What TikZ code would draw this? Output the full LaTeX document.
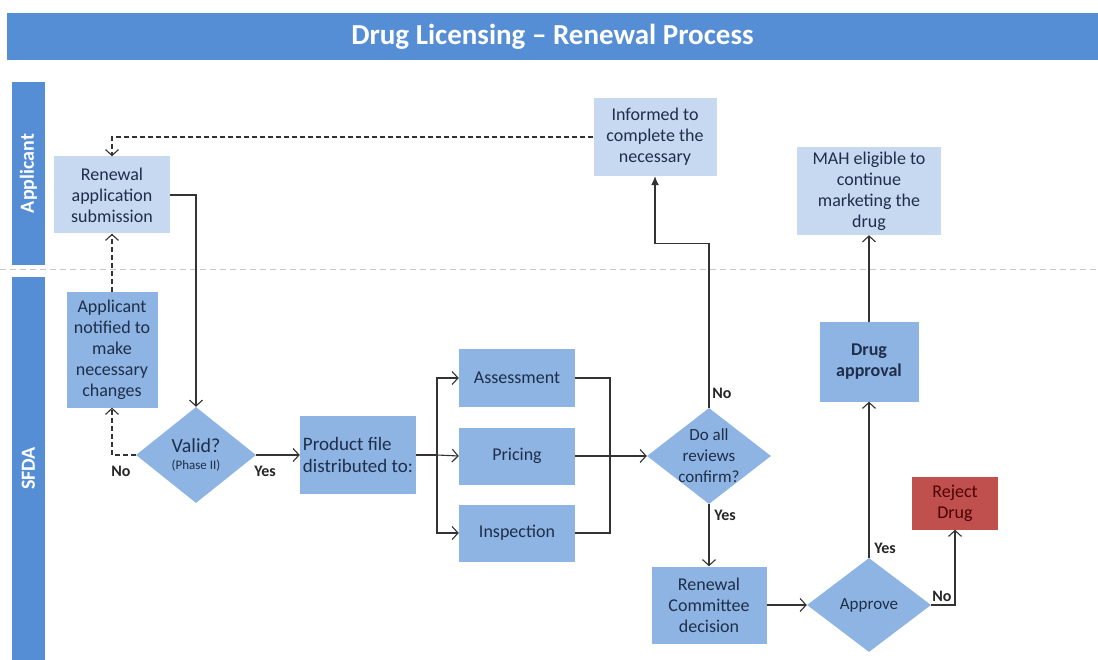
\documentclass[tikz,border=0pt]{standalone}
\usepackage{fontspec}
\setmainfont{Carlito}
\usetikzlibrary{arrows.meta,shapes.geometric}
\definecolor{barblue}{HTML}{558ED5}
\definecolor{lightfill}{HTML}{C6D9F1}
\definecolor{midfill}{HTML}{8DB4E2}
\definecolor{rejectred}{HTML}{C0504D}
\definecolor{txtblue}{HTML}{1F2E4A}
\definecolor{linegray}{HTML}{333333}

\begin{document}
\begin{tikzpicture}[x=1pt,y=-1pt,
    box/.style={rectangle, inner sep=2pt, align=center,
      font=\fontsize{18}{21}\selectfont, text=txtblue},
    lightbox/.style={box, fill=lightfill},
    midbox/.style={box, fill=midfill},
    decision/.style={diamond, fill=midfill, inner sep=0pt},
    dlabel/.style={align=center, font=\fontsize{17}{21}\selectfont, text=txtblue},
    flow/.style={draw=linegray, line width=1.1pt,
      -{Straight Barb[length=6pt,width=13pt]}},
    plain/.style={draw=linegray, line width=1.1pt},
    dashline/.style={dash pattern=on 5pt off 3pt},
    lbl/.style={font=\bfseries\fontsize{16}{18}\selectfont, text=black!85},
    lane/.style={rotate=90, fill=barblue, text=white,
      font=\bfseries\fontsize{20}{24}\selectfont}
  ]
  \useasboundingbox (0,0) rectangle (1098,660);

  % title and lanes
  \node[fill=barblue, text=white, minimum width=1091pt, minimum height=47pt,
    font=\bfseries\fontsize{29}{32}\selectfont] (title) at (552.5,36.5)
    {Drug Licensing \textendash\ Renewal Process};
  \node[lane, minimum width=183pt, minimum height=33pt] (applane) at (28.5,173.5) {Applicant};
  \node[lane, minimum width=383pt, minimum height=33pt] (sfdalane) at (28.5,468.5) {SFDA};
  \draw[gray!45, line width=1pt, dash pattern=on 6pt off 4pt] (0,270) -- (1098,270);

  % applicant lane
  \node[lightbox, minimum width=116pt, minimum height=77pt] (renew) at (112,195)
    {Renewal\\application\\submission};
  \node[lightbox, minimum width=123pt, minimum height=78pt] (inform) at (655,137)
    {Informed to\\complete the\\necessary};
  \node[lightbox, minimum width=144pt, minimum height=88pt] (mah) at (869,191)
    {MAH eligible to\\continue\\marketing the\\drug};

  % sfda lane
  \node[midbox, minimum width=91pt, minimum height=115pt] (notify) at (112,350)
    {Applicant\\notified to\\make\\necessary\\changes};
  \node[decision, minimum width=120pt, minimum height=96pt,
    label={[dlabel]center:{{\fontsize{20}{22}\selectfont Valid?}\\[-4pt]{\fontsize{13}{14}\selectfont(Phase II)}}}] (valid) at (196,455) {};
  \node[midbox, minimum width=116pt, minimum height=78pt, align=left,
    font=\fontsize{19}{22}\selectfont] (product) at (358,455)
    {Product file\\distributed to:};
  \node[midbox, minimum width=116pt, minimum height=57pt] (assess) at (517,378) {Assessment};
  \node[midbox, minimum width=116pt, minimum height=57pt] (pricing) at (517,456) {Pricing};
  \node[midbox, minimum width=116pt, minimum height=57pt] (inspect) at (517,533) {Inspection};
  \node[decision, minimum width=124pt, minimum height=96pt,
    label={[dlabel]center:{Do all\\reviews\\confirm?}}] (confirm) at (709,456) {};
  \node[midbox, minimum width=115pt, minimum height=77pt] (committee) at (709,605)
    {Renewal\\Committee\\decision};
  \node[decision, minimum width=124pt, minimum height=94pt,
    label={[dlabel]center:{Approve}}] (approve) at (869,605) {};
  \node[midbox, minimum width=99pt, minimum height=79pt, font=\bfseries\fontsize{18}{21}\selectfont]
    (drug) at (869,362) {Drug\\approval};
  \node[box, fill=rejectred, text=black!70!red, minimum width=86pt, minimum height=53pt]
    (reject) at (955,503) {Reject\\Drug};

  \coordinate (fork) at (437,455);
  \coordinate (join) at (610,455);

  % connectors
  \draw[flow] (renew.east) -| (valid.north);
  \draw[flow, dashline] (valid.west) -| (notify.south);
  \draw[flow, dashline] (notify.north) -- (renew.south);
  \draw[flow, dashline] (inform.west) -| (renew.north);
  \draw[flow] (valid.east) -- (product.west);
  \draw[plain] (product.east) -- (fork);
  \draw[flow] (fork) |- (assess.west);
  \draw[flow] (fork) -- (pricing.west);
  \draw[flow] (fork) |- (inspect.west);
  \draw[plain] (assess.east) -| (join) |- (inspect.east);
  \draw[flow] (pricing.east) -- (confirm.west);
  \draw[plain, -{Latex[length=9pt,width=8pt]}] (confirm.north) -- ++(0,-164) -| (inform.south);
  \draw[flow] (confirm.south) -- (committee.north);
  \draw[flow] (committee.east) -- (approve.west);
  \draw[flow] (approve.north) -- (drug.south);
  \draw[flow] (drug.north) -- (mah.south);
  \draw[flow] (approve.east) -| (reject.south);

  \node[lbl] (novalid) at (121,471) {No};
  \node[lbl] (yesvalid) at (265,471) {Yes};
  \node[lbl] (noconfirm) at (722,393) {No};
  \node[lbl] (yesconfirm) at (725,515) {Yes};
  \node[lbl] (yesapprove) at (885,548) {Yes};
  \node[lbl] (noapprove) at (942,596) {No};
\end{tikzpicture}
\end{document}
